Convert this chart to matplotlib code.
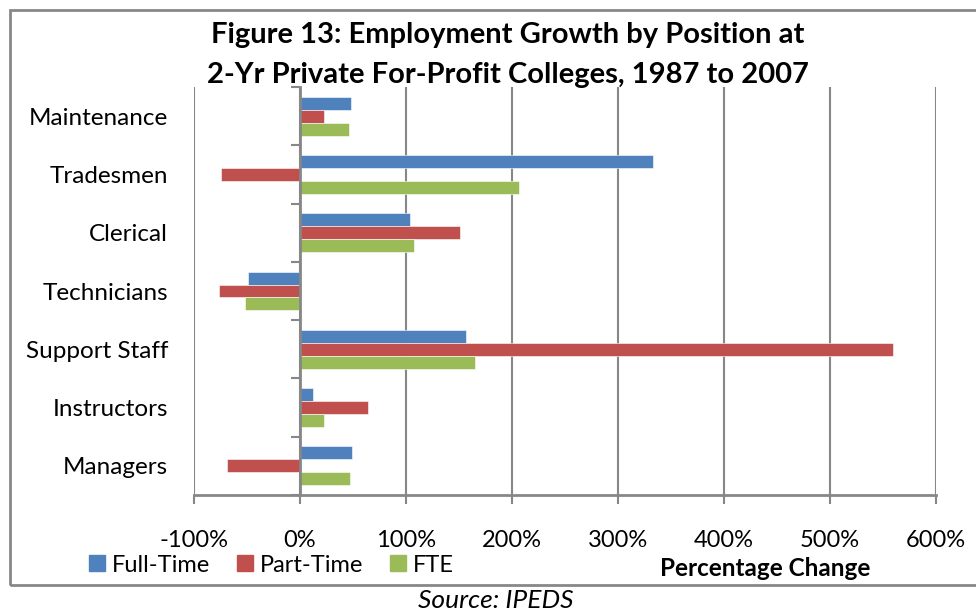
import matplotlib
matplotlib.use('Agg')
import matplotlib.pyplot as plt
import matplotlib.patches as mpatches
import numpy as np

categories = ['Managers', 'Instructors', 'Support Staff', 'Technicians',
              'Clerical', 'Tradesmen', 'Maintenance']
full_time = [49, 12, 157, -49, 104, 333, 48]
part_time = [-69, 64, 559, -76, 151, -75, 23]
fte = [47, 23, 165, -52, 108, 207, 46]
series_names = ['Full-Time', 'Part-Time', 'FTE']
colors = ['#4F81BD', '#C0504D', '#9BBB59']
xticks = [-100, 0, 100, 200, 300, 400, 500, 600]

plt.rcParams['font.family'] = ['Lato', 'DejaVu Sans']
grid_col = '#878787'

fig = plt.figure(figsize=(9.76, 6.15), dpi=100)
ax = fig.add_axes([194 / 976, 1 - 495 / 615, 742 / 976, 408 / 615])

y = np.arange(len(categories))
bh = 1 / 4.5
for i, (vals, name, col) in enumerate(zip([full_time, part_time, fte], series_names, colors)):
    ax.barh(y + bh - i * bh, vals, height=bh, color=col, edgecolor='white',
            linewidth=0.4, label=name, zorder=3)

ax.set_xlim(-100, 600)
ax.set_ylim(-0.5, len(categories) - 0.5)
ax.set_xticks(xticks)
ax.set_xticklabels([f'{t}%' for t in xticks], fontsize=17)
ax.tick_params(axis='x', length=6.5, width=1.5, color=grid_col, pad=19)
ax.grid(axis='x', color=grid_col, linewidth=1.5, zorder=0)

# vertical axis sits at 0, category labels far to the left
ax.spines['left'].set_position(('data', 0))
ax.spines['left'].set_color(grid_col)
ax.spines['left'].set_linewidth(2)
ax.spines['left'].set_zorder(4)
ax.spines['bottom'].set_color(grid_col)
ax.spines['bottom'].set_linewidth(2)
ax.spines['top'].set_visible(False)
ax.spines['right'].set_visible(False)
ax.set_yticks(y)
ax.set_yticklabels(categories, fontsize=17.5)
ax.set_yticks(np.arange(-0.5, len(categories), 1), minor=True)
ax.tick_params(axis='y', which='major', length=0, pad=95)
ax.tick_params(axis='y', which='minor', length=6.5, width=1.5, color=grid_col)

fig.text(508 / 976, 1 - 35 / 615, 'Figure 13: Employment Growth by Position at',
         ha='center', va='center', fontsize=21, fontweight='bold')
fig.text(508 / 976, 1 - 75 / 615, '2-Yr Private For-Profit Colleges, 1987 to 2007',
         ha='center', va='center', fontsize=21, fontweight='bold')

handles = [mpatches.Patch(color=c, label=n) for c, n in zip(colors, series_names)]
fig.legend(handles=handles, loc='center left', bbox_to_anchor=(80 / 976, 1 - 565 / 615),
           ncol=3, frameon=False, fontsize=17, handlelength=0.65, handleheight=0.65,
           handletextpad=0.3, columnspacing=1.15, borderaxespad=0)

fig.text(765 / 976, 1 - 568 / 615, 'Percentage Change', ha='center', va='center',
         fontsize=17.5, fontweight='bold')
fig.text(496 / 976, 1 - 601 / 615, 'Source: IPEDS', ha='center', va='center',
         fontsize=19, fontstyle='italic')

frame = mpatches.Rectangle((10 / 976, 1 - 585 / 615), 1.0, 575 / 615,
                           transform=fig.transFigure, fill=False,
                           edgecolor=grid_col, linewidth=2, zorder=0)
fig.patches.append(frame)

fig.savefig('out.png', dpi=100)
